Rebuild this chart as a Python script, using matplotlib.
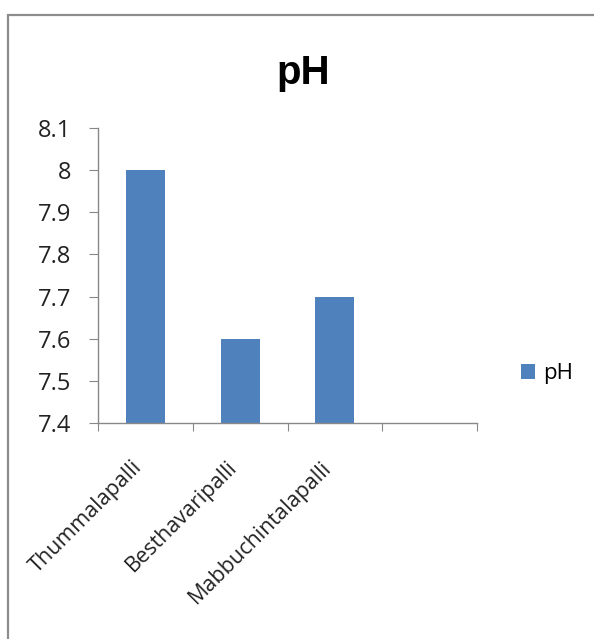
import matplotlib
matplotlib.use("Agg")
import matplotlib.pyplot as plt
from matplotlib.patches import Rectangle
import numpy as np

villages = ["Thummalapalli", "Besthavaripalli", "Mabbuchintalapalli", ""]
ph_values = [8.0, 7.6, 7.7, np.nan]
y_ticks = [7.4, 7.5, 7.6, 7.7, 7.8, 7.9, 8.0, 8.1]
y_tick_labels = ["7.4", "7.5", "7.6", "7.7", "7.8", "7.9", "8", "8.1"]

plt.rcParams['font.family'] = ['Open Sans', 'DejaVu Sans']

W, H = 594, 639
fig = plt.figure(figsize=(W / 100, H / 100), dpi=100)

# outer chart border (Excel style, cropped on right/bottom)
fig.patches.append(Rectangle((8 / W, -0.05), 1.1, 1 - 15 / H + 0.05,
                             transform=fig.transFigure, fill=False,
                             edgecolor="#8c8c8c", linewidth=1.6))

ax = fig.add_axes([98 / W, 1 - 423 / H, (477 - 98) / W, (423 - 128) / H])

x = np.arange(len(villages))
bars = ax.bar(x, np.nan_to_num(ph_values, nan=7.4), width=0.41,
              color="#4F81BD", label="pH")
ax.set_xlim(-0.5, len(villages) - 0.5)
ax.set_ylim(7.4, 8.1)
ax.set_yticks(y_ticks)
ax.set_yticklabels(y_tick_labels, fontsize=17, color="#222222")

# category boundaries as ticks, names drawn separately
ax.set_xticks(np.arange(len(villages) + 1) - 0.5)
ax.set_xticklabels([])
for i, name in zip(x, villages):
    ax.annotate(name, xy=(i, 0), xycoords=("data", "axes fraction"),
                xytext=(-14, -34), textcoords="offset pixels",
                rotation=45, ha="right", va="top", rotation_mode="anchor",
                fontsize=15.5, color="#222222")
ax.tick_params(axis="x", which="major", length=6, color="#888888", direction="out")
ax.tick_params(axis="y", length=6.5, color="#888888", direction="out", pad=12.5)

for side in ["top", "right"]:
    ax.spines[side].set_visible(False)
for side in ["left", "bottom"]:
    ax.spines[side].set_color("#888888")
    ax.spines[side].set_linewidth(1.0)

fig.text(303 / W, 1 - 73 / H, "pH", ha="center", va="center",
         fontsize=29, fontweight="bold", family=["Liberation Sans", "DejaVu Sans"])

fig.legend(handles=[bars], labels=["pH"], loc="center left",
           bbox_to_anchor=(521 / W, 1 - 374 / H), frameon=False,
           fontsize=16, handlelength=0.64, handleheight=0.64,
           handletextpad=0.36, borderpad=0, borderaxespad=0)

fig.savefig("out.png", dpi=100)
